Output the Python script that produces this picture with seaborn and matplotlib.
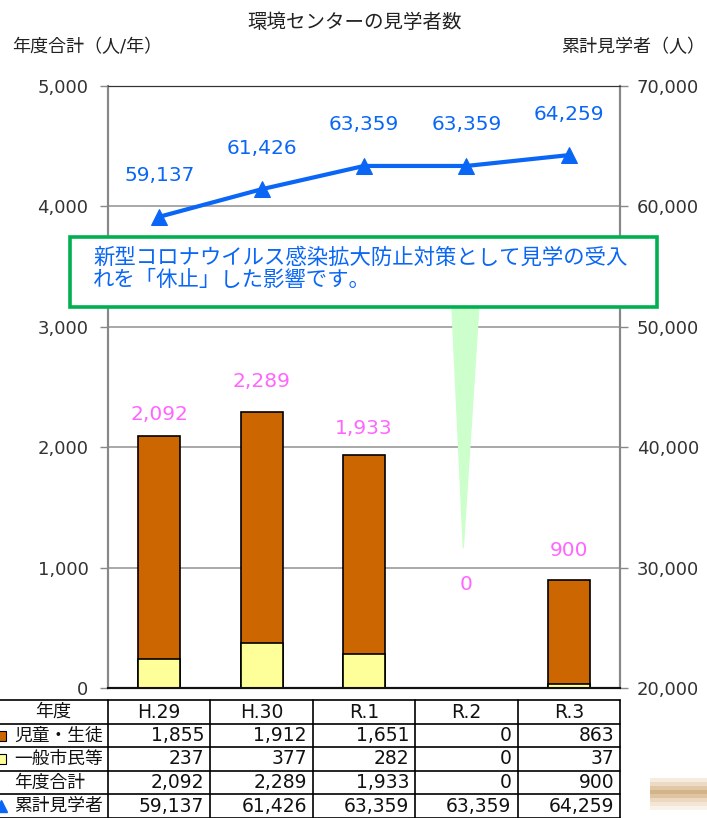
import numpy as np
import pandas as pd
import matplotlib
matplotlib.use("Agg")
import matplotlib.pyplot as plt
import seaborn as sns
from matplotlib.patches import Rectangle, Polygon

# data
years = ["H.29", "H.30", "R.1", "R.2", "R.3"]
students = [1855, 1912, 1651, 0, 863]
citizens = [237, 377, 282, 0, 37]
totals = [2092, 2289, 1933, 0, 900]
cumulative = [59137, 61426, 63359, 63359, 64259]
row_labels = ["児童・生徒", "一般市民等", "年度合計", "累計見学者"]

title = "環境センターの見学者数"
left_label = "年度合計（人/年）"
right_label = "累計見学者（人）"
note_lines = ["新型コロナウイルス感染拡大防止対策として見学の受入",
              "れを「休止」した影響です。"]

ORANGE = "#cc6600"
YELLOW = "#ffff99"
BLUE = "#0a66f5"
PINK = "#ff66ff"
GREEN = "#00b050"

sns.set_style("white")
plt.rcParams['font.family'] = ['DejaVu Sans', 'Noto Sans CJK JP']

W, H = 707, 818
fig = plt.figure(figsize=(W / 100, H / 100), dpi=100)

# plot area in pixels
px_l, px_r, px_t, px_b = 108, 620, 86, 688
ax = fig.add_axes([px_l / W, 1 - px_b / H, (px_r - px_l) / W, (px_b - px_t) / H])

df = pd.DataFrame({"year": years, "students": students, "citizens": citizens,
                   "total": totals, "cum": cumulative})

sns.barplot(data=df, x="year", y="total", color=ORANGE, saturation=1, width=0.41,
            edgecolor="black", linewidth=1.2, ax=ax, zorder=3)
sns.barplot(data=df, x="year", y="citizens", color=YELLOW, saturation=1, width=0.41,
            edgecolor="black", linewidth=1.2, ax=ax, zorder=3)

ax.set_ylim(0, 5000)
ax.set_xlim(-0.5, 4.5)
ax.set_yticks(range(0, 5001, 1000))
ax.set_yticklabels([f"{v:,}" for v in range(0, 5001, 1000)], fontsize=13, color="#333333")
ax.set_xticks([])
ax.set_xlabel("")
ax.set_ylabel("")
ax.set_axisbelow(True)
ax.yaxis.grid(True, color="#999999", linewidth=1.2)
ax.tick_params(axis="y", direction="out", length=6, width=1, color="#888888", pad=8, left=True)
for s in ["left", "right"]:
    ax.spines[s].set_color("#888888")
    ax.spines[s].set_linewidth(1.5)
ax.spines["top"].set_color("#333333")
ax.spines["bottom"].set_color("#111111")
ax.spines["bottom"].set_linewidth(1.5)

# pink total labels
total_offsets = [22, 31, 27, 103, 29]
for i, v in enumerate(totals):
    ax.annotate(f"{v:,}", (i, v), xytext=(0, total_offsets[i] * 0.72), textcoords="offset points",
                ha="center", va="center", color=PINK, fontsize=14.5, zorder=6)

# green wedge pointing at R.2
ax.add_patch(Polygon([(2.86, 3145), (3.12, 3145), (2.97, 1165)], closed=True,
                     facecolor="#ccffcc", edgecolor="#ccffcc", linewidth=1, joinstyle="round", zorder=5))

# cumulative line on the right axis
ax2 = ax.twinx()
sns.lineplot(x=np.arange(len(years)), y=cumulative, ax=ax2, color=BLUE, linewidth=3,
             marker="^", markersize=11, markeredgecolor=BLUE, markerfacecolor=BLUE, zorder=6)
ax2.set_ylim(20000, 70000)
ax2.set_yticks(range(20000, 70001, 10000))
ax2.set_yticklabels([f"{v:,}" for v in range(20000, 70001, 10000)], fontsize=13, color="#333333")
ax2.tick_params(axis="y", direction="out", length=6, width=1, color="#888888", pad=6, right=True)
for s in ["left", "right"]:
    ax2.spines[s].set_color("#888888")
    ax2.spines[s].set_linewidth(1.5)
ax2.spines["top"].set_color("#333333")
ax2.spines["bottom"].set_color("#111111")
ax2.spines["bottom"].set_linewidth(1.5)
ax2.set_xlim(-0.5, 4.5)

for i, v in enumerate(cumulative):
    ax2.annotate(f"{v:,}", (i, v), xytext=(0, 41 * 0.72), textcoords="offset points",
                 ha="center", va="center", color=BLUE, fontsize=14.5, zorder=7)

# overlay in pixel coordinates for title, note box and data table
ov = fig.add_axes([0, 0, 1, 1], zorder=10)
ov.set_xlim(0, W)
ov.set_ylim(H, 0)
ov.axis("off")
ov.patch.set_alpha(0)

ov.text(355, 22, title, ha="center", va="center", fontsize=14, color="#222222")
ov.text(12, 47, left_label, ha="left", va="center", fontsize=13, color="#222222")
ov.text(705, 47, right_label, ha="right", va="center", fontsize=13, color="#222222")

# note box
ov.add_patch(Rectangle((70, 237), 587, 70, facecolor="white", edgecolor=GREEN, linewidth=2.6))
ov.text(93, 258, note_lines[0], ha="left", va="center", fontsize=15.4, color=BLUE)
ov.text(93, 280, note_lines[1], ha="left", va="center", fontsize=15.4, color=BLUE)

# data table
col_w = (px_r - px_l) / len(years)
col_edges = [px_l + k * col_w for k in range(len(years) + 1)]
row_edges = [700, 724, 747, 771, 794, 818]
tab_left = -10
lw = 1.2
for y in row_edges:
    ov.plot([tab_left, px_r], [y, y], color="black", lw=lw, clip_on=False)
for x in col_edges:
    ov.plot([x, x], [row_edges[0], row_edges[-1] + 5], color="black", lw=lw)

ov.text((tab_left + px_l) / 2 + 4, (row_edges[0] + row_edges[1]) / 2, "年度",
        ha="center", va="center", fontsize=13, color="#111111")
for k, yr in enumerate(years):
    ov.text((col_edges[k] + col_edges[k + 1]) / 2, (row_edges[0] + row_edges[1]) / 2, yr,
            ha="center", va="center", fontsize=13.5, color="#111111")

rows = [students, citizens, totals, cumulative]
for r, (lab, vals) in enumerate(zip(row_labels, rows)):
    yc = (row_edges[r + 1] + row_edges[r + 2]) / 2
    ov.text(14, yc, lab, ha="left", va="center", fontsize=12.8, color="#111111")
    for k, v in enumerate(vals):
        ov.text(col_edges[k + 1] - 6, yc, f"{v:,}", ha="right", va="center",
                fontsize=13.5, color="#111111")

# legend keys in the table
yk = (row_edges[1] + row_edges[2]) / 2
ov.add_patch(Rectangle((-4, yk - 5), 10, 10, facecolor=ORANGE, edgecolor="black", lw=0.8))
yk = (row_edges[2] + row_edges[3]) / 2
ov.add_patch(Rectangle((-4, yk - 5), 10, 10, facecolor=YELLOW, edgecolor="black", lw=0.8))
yk = (row_edges[4] + row_edges[5]) / 2
ov.plot([1], [yk], marker="^", markersize=8, color=BLUE)

# faint decoration at bottom right
for yy, c in zip(range(778, 810, 4), ["#f3e6d6", "#e8d2b4", "#d9b98f", "#c9a06c",
                                      "#d8b68a", "#e6cfae", "#f0e0cc", "#f8efe4"]):
    ov.add_patch(Rectangle((650, yy), 57, 4, facecolor=c, edgecolor="none", alpha=0.8))

fig.savefig("out.png", dpi=100)
